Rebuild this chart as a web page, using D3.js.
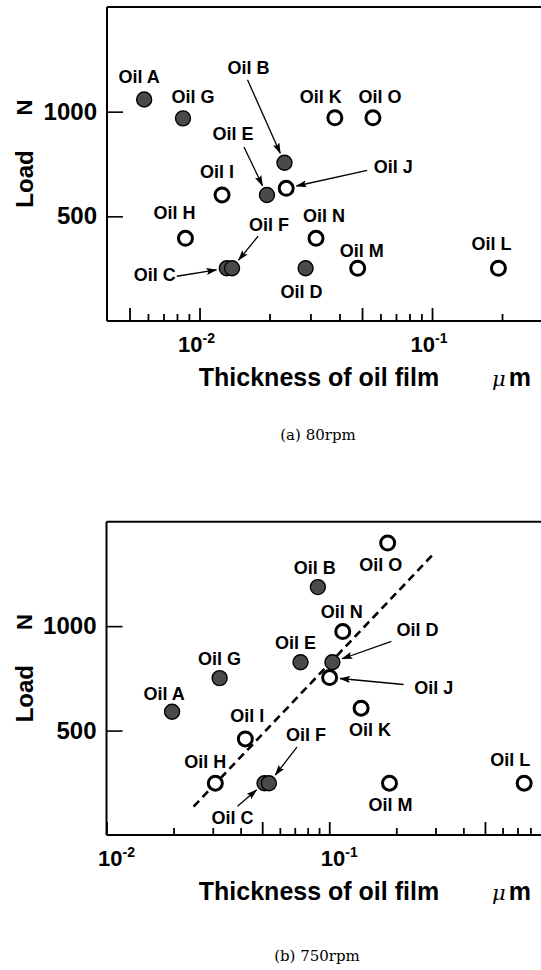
<!DOCTYPE html>
<html>
<head>
<meta charset="utf-8">
<script src="https://cdn.jsdelivr.net/npm/d3@7"></script>
<style>
  html, body { margin: 0; padding: 0; background: #fff; }
  svg { display: block; }
</style>
</head>
<body>
<svg id="chart" width="541" height="970"></svg>
<script>
// ---------------- DATA ----------------
const oilNames = ["Oil A","Oil B","Oil C","Oil D","Oil E","Oil F","Oil G","Oil H",
                  "Oil I","Oil J","Oil K","Oil L","Oil M","Oil N","Oil O"];
const filledOils = ["Oil A","Oil B","Oil C","Oil D","Oil E","Oil F","Oil G"];

// (a) 80 rpm : oil film thickness (µm) and load (N)
const thickness80 = [0.00578, 0.0232, 0.0131, 0.0286, 0.0195, 0.0138, 0.00849, 0.0087,
                     0.0125, 0.0236, 0.0382, 0.193, 0.0479, 0.0317, 0.0557];
const load80      = [1058, 756, 252, 252, 602, 252, 968, 395,
                     602, 634, 971, 252, 252, 395, 971];

// (b) 750 rpm
const thickness750 = [0.0197, 0.0889, 0.0512, 0.1033, 0.0743, 0.0536, 0.0322, 0.0308,
                      0.042, 0.1004, 0.139, 0.750, 0.1864, 0.115, 0.1829];
const load750      = [590, 1187, 248, 827, 827, 248, 751, 248,
                      460, 754, 607, 248, 248, 974, 1398];

// trend line (750 rpm), two end points in data units
const trendThickness750 = [0.0246, 0.2965];
const trendLoad750      = [136, 1350];

const yTickValues = [500, 1000];
const xMinorTicks80  = [0.005,0.006,0.007,0.008,0.009,0.01,0.02,0.03,0.04,0.05,0.06,0.07,0.08,0.09,
                        0.1,0.2,0.3,0.4];
const xMinorTicks750 = [0.01,0.02,0.03,0.04,0.05,0.06,0.07,0.08,0.09,
                        0.1,0.2,0.3,0.4,0.5,0.6,0.7,0.8,0.9,1];
const longTicks = [0.005, 0.01, 0.05, 0.1, 0.5, 1];
const xMajorTicks  = [0.01, 0.1];
const xMajorLabels = [["10","-2"],["10","-1"]];

const xTitle = "Thickness of oil film";
const yTitle = "Load";
const yUnit = "N";
const captions = ["(a) 80rpm", "(b) 750rpm"];

// ---------------- LAYOUT (pixel offsets for labels / arrows) ----------------
const labelLayout80 = {
  "Oil A":{dx:-5,dy:-17}, "Oil B":{dx:-36,dy:-89, arrow:[-37,-83]},
  "Oil C":{dx:-72,dy:13, arrow:[-50,8]}, "Oil D":{dx:-4,dy:30},
  "Oil E":{dx:-34,dy:-55, arrow:[-23,-48]}, "Oil F":{dx:37,dy:-37, arrow:[26,-32]},
  "Oil G":{dx:10,dy:-15}, "Oil H":{dx:-11,dy:-19}, "Oil I":{dx:-5,dy:-17},
  "Oil J":{dx:107,dy:-15, arrow:[81,-18]}, "Oil K":{dx:-14,dy:-15},
  "Oil L":{dx:-7,dy:-18}, "Oil M":{dx:4,dy:-11}, "Oil N":{dx:8,dy:-16}, "Oil O":{dx:7,dy:-15}
};
const labelLayout750 = {
  "Oil A":{dx:-8,dy:-12}, "Oil B":{dx:-3,dy:-13}, "Oil C":{dx:-32,dy:41, arrow:[-27,23]},
  "Oil D":{dx:85,dy:-26, arrow:[59,-21]}, "Oil E":{dx:-5,dy:-13},
  "Oil F":{dx:37,dy:-42, arrow:[28,-36]}, "Oil G":{dx:0,dy:-13}, "Oil H":{dx:-10,dy:-15},
  "Oil I":{dx:2,dy:-17}, "Oil J":{dx:104,dy:16, arrow:[74,7]}, "Oil K":{dx:9,dy:28},
  "Oil L":{dx:-14,dy:-17}, "Oil M":{dx:1,dy:28}, "Oil N":{dx:-1,dy:-14}, "Oil O":{dx:-7,dy:28}
};

const panels = [
  { thickness: thickness80, load: load80, layout: labelLayout80,
    xDomain: [0.004, 0.4], xRange: [107, 572], yRange: [321, 7], minor: xMinorTicks80,
    tickLabelDx: -3,
    caption: captions[0], captionX: 318, captionY: 440, trend: null },
  { thickness: thickness750, load: load750, layout: labelLayout750,
    xDomain: [0.01, 1], xRange: [106.5, 552], yRange: [835, 521.7], minor: xMinorTicks750,
    tickLabelDx: 10,
    caption: captions[1], captionX: 317, captionY: 961,
    trend: { x: trendThickness750, y: trendLoad750 } }
];

const SANS = "'Liberation Sans', Arial, Helvetica, sans-serif";
const SERIF = "'DejaVu Serif', 'Liberation Serif', serif";

const svg = d3.select("#chart");
const defs = svg.append("defs");
defs.append("marker")
  .attr("id", "arrowhead")
  .attr("markerUnits", "userSpaceOnUse")
  .attr("markerWidth", 11).attr("markerHeight", 7)
  .attr("refX", 10).attr("refY", 3.5)
  .attr("orient", "auto")
  .append("path").attr("d", "M0,0 L11,3.5 L0,7 L2,3.5 Z").attr("fill", "#000");

panels.forEach((p, pi) => {
  const x = d3.scaleLog().domain(p.xDomain).range(p.xRange);
  const y = d3.scaleLinear().domain([0, 1500]).range(p.yRange);
  const g = svg.append("g").attr("class", "panel" + pi);
  const x0 = p.xRange[0], yb = p.yRange[0], yt = p.yRange[1];

  // frame
  g.append("line").attr("x1", x0).attr("x2", 600).attr("y1", yt).attr("y2", yt)
    .attr("stroke", "#000").attr("stroke-width", 2);
  g.append("line").attr("x1", x0).attr("x2", x0).attr("y1", yt).attr("y2", yb)
    .attr("stroke", "#000").attr("stroke-width", 2);

  const pts = oilNames.map((n, i) => ({ name: n, t: p.thickness[i], l: p.load[i],
    filled: filledOils.includes(n) }));

  // trend line
  if (p.trend) {
    g.append("line")
      .attr("x1", x(p.trend.x[0])).attr("y1", y(p.trend.y[0]))
      .attr("x2", x(p.trend.x[1])).attr("y2", y(p.trend.y[1]))
      .attr("stroke", "#000").attr("stroke-width", 2.6)
      .attr("stroke-dasharray", "8,5");
  }

  // arrows
  pts.forEach(d => {
    const lay = p.layout[d.name];
    if (!lay.arrow) return;
    const cx = x(d.t), cy = y(d.l);
    const sx = cx + lay.arrow[0], sy = cy + lay.arrow[1];
    const len = Math.hypot(sx - cx, sy - cy);
    const gap = 10.5;
    const ex = cx + (sx - cx) * gap / len, ey = cy + (sy - cy) * gap / len;
    g.append("line").attr("x1", sx).attr("y1", sy).attr("x2", ex).attr("y2", ey)
      .attr("stroke", "#000").attr("stroke-width", 1.3)
      .attr("marker-end", "url(#arrowhead)");
  });

  // markers
  g.selectAll("circle.pt").data(pts).enter().append("circle")
    .attr("class", "pt")
    .attr("cx", d => x(d.t)).attr("cy", d => y(d.l))
    .attr("r", d => d.filled ? 7.5 : 7)
    .attr("fill", d => d.filled ? "#4a4a4a" : "#fff")
    .attr("stroke", "#000")
    .attr("stroke-width", d => d.filled ? 1.4 : 3);

  // labels
  pts.forEach(d => {
    const lay = p.layout[d.name];
    g.append("text")
      .attr("x", x(d.t) + lay.dx).attr("y", y(d.l) + lay.dy)
      .attr("text-anchor", "middle")
      .attr("font-family", SANS).attr("font-weight", "bold").attr("font-size", 18)
      .text(d.name);
  });

  // y axis ticks (inward) + labels
  const yAxis = d3.axisLeft(y).tickValues(yTickValues).tickSize(-16).tickFormat(() => "");
  const ygr = g.append("g").attr("transform", `translate(${x0},0)`).call(yAxis);
  ygr.select(".domain").remove();
  ygr.selectAll(".tick line").attr("stroke", "#000").attr("stroke-width", 1.6);
  yTickValues.forEach(v => {
    g.append("text").attr("x", x0 - 10).attr("y", y(v) + 8)
      .attr("text-anchor", "end")
      .attr("font-family", SANS).attr("font-weight", "bold").attr("font-size", 24)
      .text(v);
  });

  // x axis with inward log ticks
  const xAxis = d3.axisBottom(x)
    .tickValues(p.minor)
    .tickFormat(() => "")
    .tickSizeInner(-7)
    .tickSizeOuter(0);
  const xg = g.append("g").attr("transform", `translate(0,${yb})`).call(xAxis);
  xg.select(".domain").attr("stroke", "#000").attr("stroke-width", 2)
    .attr("d", `M${x0},0H600`);
  xg.selectAll(".tick line")
    .attr("stroke", "#000").attr("stroke-width", 1.8)
    .attr("y2", d => longTicks.some(v => Math.abs(v - d) < 1e-9) ? -13 : -7);

  // x major tick labels
  xMajorTicks.forEach((v, i) => {
    const t = g.append("text")
      .attr("x", x(v) + p.tickLabelDx).attr("y", yb + 31)
      .attr("text-anchor", "middle")
      .attr("font-family", SANS).attr("font-weight", "bold").attr("font-size", 22);
    t.append("tspan").text(xMajorLabels[i][0]);
    t.append("tspan").attr("dy", -9).attr("font-size", 14).text(xMajorLabels[i][1]);
  });

  // axis titles
  g.append("text")
    .attr("transform", `translate(33,${yt + 172}) rotate(-90)`)
    .attr("text-anchor", "middle")
    .attr("font-family", SANS).attr("font-weight", "bold").attr("font-size", 24)
    .text(yTitle);
  g.append("text")
    .attr("transform", `translate(32,${y(1000) - 4}) rotate(-90)`)
    .attr("text-anchor", "middle")
    .attr("font-family", SANS).attr("font-weight", "bold").attr("font-size", 22)
    .text(yUnit);
  g.append("text")
    .attr("x", 319).attr("y", yb + 65)
    .attr("text-anchor", "middle")
    .attr("font-family", SANS).attr("font-weight", "bold").attr("font-size", 25)
    .text(xTitle);
  const unit = g.append("text").attr("x", 492).attr("y", yb + 65);
  unit.append("tspan").attr("font-family", SERIF).attr("font-style", "italic")
    .attr("font-size", 21).text("μ");
  unit.append("tspan").attr("dx", 3).attr("font-family", SANS).attr("font-weight", "bold")
    .attr("font-size", 25).text("m");

  // caption
  g.append("text").attr("x", p.captionX).attr("y", p.captionY)
    .attr("text-anchor", "middle")
    .attr("font-family", SERIF).attr("font-size", 15)
    .text(p.caption);
});
</script>
</body>
</html>
